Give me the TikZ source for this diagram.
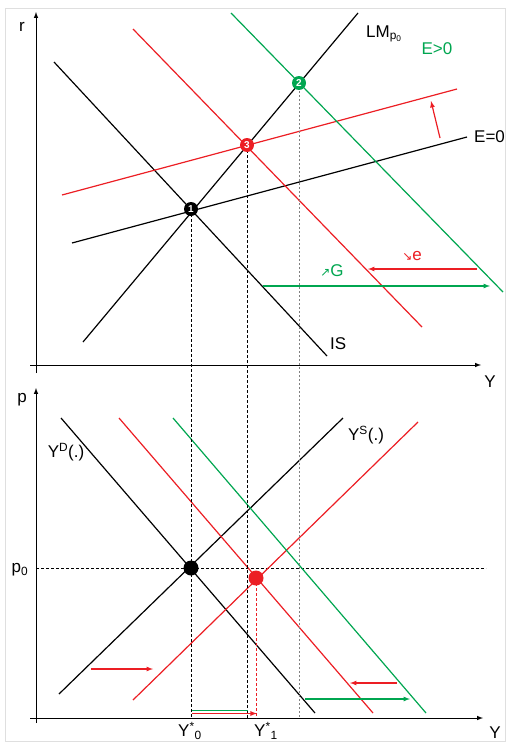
\documentclass[tikz,border=0pt]{standalone}
\usepackage{fontspec}
\setmainfont{Liberation Sans}
\newfontfamily\arrowsym{DejaVu Sans}
\usetikzlibrary{positioning}
\definecolor{shiftred}{RGB}{236,30,36}
\definecolor{shiftgreen}{RGB}{0,166,80}

\begin{document}
\begin{tikzpicture}[x=1pt,y=-1pt,
    curve/.style={line width=1.2pt},
    axis/.style={line width=1pt,-latex},
    guide/.style={line width=0.8pt,dash pattern=on 3pt off 2pt},
    move/.style={line width=1.2pt,-latex},
    lbl/.style={font=\fontsize{17}{19}\selectfont,inner sep=0pt},
    eqpt/.style={circle,fill=#1,inner sep=0pt,minimum size=14pt,text=white,
                 font=\bfseries\fontsize{10}{10}\selectfont}]
    \useasboundingbox (0,0) rectangle (509,744);
    \draw[gray!25,line width=0.8pt] (5,8) rectangle (505,741);

    % IS-LM panel
    \coordinate (rlo) at (36,373);
    \coordinate (rhi) at (36,12);
    \coordinate (ylo) at (30,365);
    \coordinate (yhi) at (481,365);
    \draw[axis] (rlo) -- (rhi);
    \draw[axis] (ylo) -- (yhi);
    \node[lbl] (rlab) at (22,27) {r};
    \node[lbl] (ylab) at (490,382) {Y};

    \coordinate (is0a) at (54,62);    \coordinate (is0b) at (327,356);
    \coordinate (lma) at (83,342);    \coordinate (lmb) at (358,13);
    \coordinate (e0a) at (72,243);    \coordinate (e0b) at (467,137);
    \coordinate (is1a) at (133,29);   \coordinate (is1b) at (422,327);
    \coordinate (e1a) at (62,195);    \coordinate (e1b) at (457,89);
    \coordinate (is2a) at (231,13);   \coordinate (is2b) at (503,292);

    \draw[curve] (is0a) -- (is0b);
    \draw[curve] (lma) -- (lmb);
    \draw[curve] (e0a) -- (e0b);
    \draw[curve,shiftred] (is1a) -- (is1b);
    \draw[curve,shiftred] (e1a) -- (e1b);
    \draw[curve,shiftgreen] (is2a) -- (is2b);

    \node[lbl,anchor=west] (islab) at (330,344) {IS};
    \node[lbl,anchor=west] (lmlab) at (366,34) {LM\textsubscript{p\textsubscript{0}}};
    \node[lbl,text=shiftgreen] (eposlab) at (437,49) {E>0};
    \node[lbl,right=7pt of e0b] (ezerolab) {E=0};

    % shifts
    \coordinate (ua) at (440,138);   \coordinate (ub) at (431,101);
    \coordinate (ga) at (263,286);   \coordinate (gb) at (490,286);
    \coordinate (ea) at (477,269);   \coordinate (eb) at (368,269);
    \draw[move,shiftred] (ua) -- (ub);
    \draw[move,shiftgreen] (ga) -- (gb);
    \draw[move,shiftred] (ea) -- (eb);
    \node[lbl,text=shiftgreen] (glab) at (332,271) {{\arrowsym\fontsize{12}{12}\selectfont ↗}G};
    \node[lbl,text=shiftred] (elab) at (412,256) {{\arrowsym\fontsize{12}{12}\selectfont ↘}e};

    % AD-AS panel
    \coordinate (plo) at (36,723);
    \coordinate (phi) at (36,388);
    \coordinate (qlo) at (30,718);
    \coordinate (qhi) at (483,718);
    \draw[axis] (plo) -- (phi);
    \draw[axis] (qlo) -- (qhi);
    \node[lbl] (plab) at (22,400) {p};
    \node[lbl] (qlab) at (495,733) {Y};

    \coordinate (p0a) at (36,568);    \coordinate (p0b) at (486,568);
    \draw[guide] (p0a) -- (p0b);
    \node[lbl] (p0lab) at (20,570) {p\textsubscript{0}};

    \coordinate (yd0a) at (61,418);   \coordinate (yd0b) at (315,713);
    \coordinate (ys0a) at (59,694);   \coordinate (ys0b) at (343,418);
    \coordinate (yd1a) at (119,418);  \coordinate (yd1b) at (373,713);
    \coordinate (ys1a) at (133,700);  \coordinate (ys1b) at (418,422);
    \coordinate (yd2a) at (173,418);  \coordinate (yd2b) at (426,713);

    \draw[curve] (yd0a) -- (yd0b);
    \draw[curve] (ys0a) -- (ys0b);
    \draw[curve,shiftred] (yd1a) -- (yd1b);
    \draw[curve,shiftred] (ys1a) -- (ys1b);
    \draw[curve,shiftgreen] (yd2a) -- (yd2b);

    \node[lbl] (ydlab) at (66,452) {Y\textsuperscript{D}(.)};
    \node[lbl] (yslab) at (366,435) {Y\textsuperscript{S}(.)};

    % vertical guides
    \coordinate (p1) at (191,209);
    \coordinate (p3) at (247,145);
    \coordinate (p2) at (299,83);
    \coordinate (q0) at (191,568);
    \coordinate (q1) at (256,578);
    \coordinate (g0) at (191,718);
    \coordinate (g3) at (247,718);
    \coordinate (g2) at (299,718);
    \coordinate (g1) at (256,718);
    \draw[guide] (p1) -- (g0);
    \draw[guide] (p3) -- (g3);
    \draw[guide,gray,dash pattern=on 2pt off 2pt] (p2) -- (g2);
    \draw[guide,shiftred] (q1) -- (g1);

    \coordinate (la) at (91,669);    \coordinate (lb) at (153,669);
    \coordinate (ra) at (397,683);   \coordinate (rb) at (350,683);
    \coordinate (sa) at (305,699);   \coordinate (sb) at (410,699);
    \coordinate (ya) at (192,710.5); \coordinate (yb) at (248,710.5);
    \coordinate (yc) at (192,713.5); \coordinate (yd) at (257,713.5);
    \draw[move,shiftred] (la) -- (lb);
    \draw[move,shiftred] (ra) -- (rb);
    \draw[move,shiftgreen] (sa) -- (sb);
    \draw[line width=1.3pt,shiftgreen] (ya) -- (yb);
    \draw[line width=1.3pt,shiftred,-latex] (yc) -- (yd);

    \node[lbl] (y0lab) at (190,731) {Y\textsuperscript{*}\textsubscript{0}};
    \node[lbl] (y1lab) at (266,731) {Y\textsuperscript{*}\textsubscript{1}};

    % equilibria
    \node[eqpt=black] (pt1) at (p1) {1};
    \node[eqpt=shiftred] (pt3) at (p3) {3};
    \node[eqpt=shiftgreen] (pt2) at (p2) {2};
    \fill (q0) circle (7.5);
    \fill[shiftred] (q1) circle (7.5);
\end{tikzpicture}
\end{document}
